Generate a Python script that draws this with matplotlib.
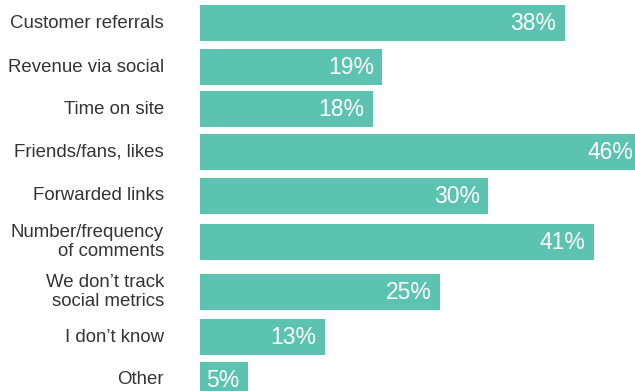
import matplotlib
matplotlib.use("Agg")
import matplotlib.pyplot as plt

plt.rcParams['font.family'] = ['Liberation Sans', 'DejaVu Sans']

# survey answers, top to bottom
labels = ["Customer referrals", "Revenue via social", "Time on site",
          "Friends/fans, likes", "Forwarded links",
          "Number/frequency\nof comments", "We don\u2019t track\nsocial metrics",
          "I don\u2019t know", "Other"]
values = [38, 19, 18, 46, 30, 41, 25, 13, 5]

# row centres in pixels from the top (two-line labels get a little more room)
row_y = [23, 67, 109, 152, 196, 242, 292, 337, 380]
bar_h = 36
px_per_pct = 9.6
bar_left = 200

fig = plt.figure(figsize=(6.35, 3.91), dpi=100)
ax = fig.add_axes([0, 0, 1, 1])
ax.set_xlim(-bar_left / px_per_pct, (635 - bar_left) / px_per_pct)
ax.set_ylim(391, 0)
ax.axis("off")

teal = "#5cc3b1"
ax.barh(row_y, values, height=bar_h, left=0, color=teal)

for y, lab, v in zip(row_y, labels, values):
    ax.text(-36 / px_per_pct, y, lab, ha="right", va="center",
            fontsize=13.4, color="#333333", linespacing=1.08)
    ax.annotate(f"{v}%", xy=(v, y + 0.5), xytext=(-6, 0),
                textcoords="offset points", ha="right", va="center",
                fontsize=16.5, color="white", annotation_clip=False)

fig.savefig("out.png", dpi=100)
